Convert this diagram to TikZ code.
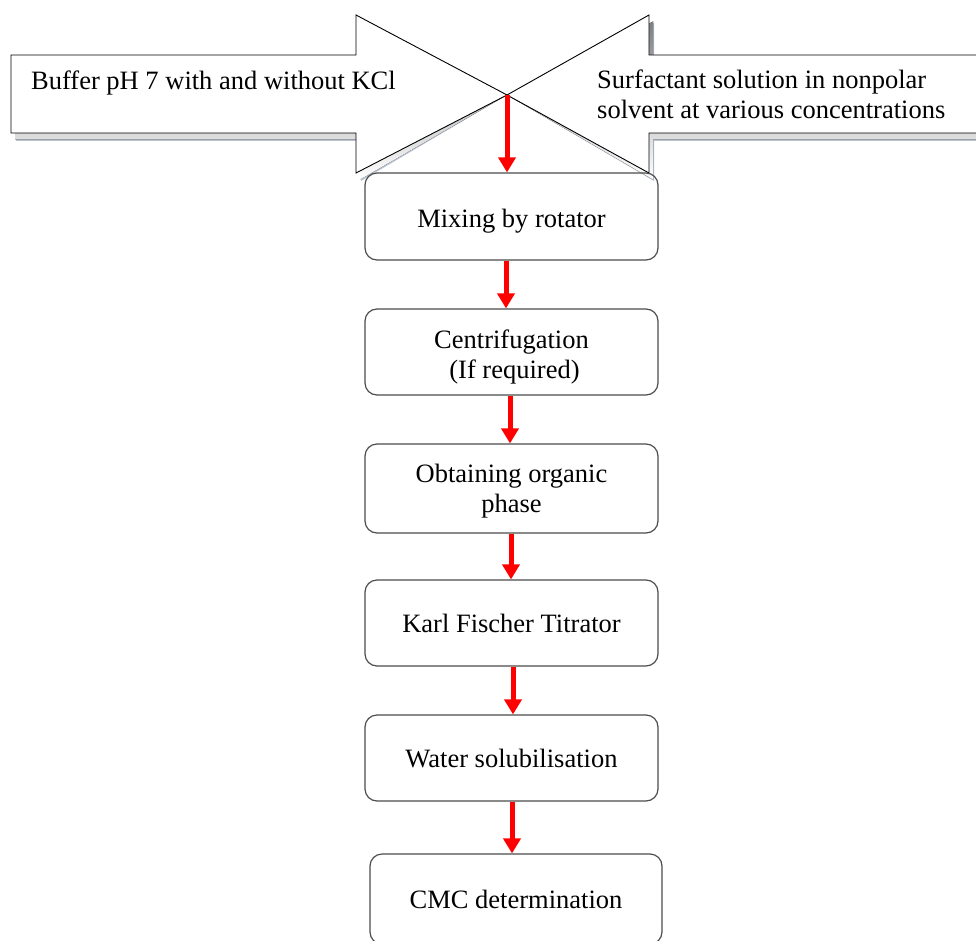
\documentclass[tikz,border=0pt]{standalone}
\usepackage{fontspec}
\setmainfont{Liberation Serif}
\usetikzlibrary{arrows.meta,calc}
\definecolor{shade}{HTML}{8190A8}
\definecolor{shadelight}{HTML}{B9C3D3}
\definecolor{flowred}{HTML}{FF0000}
% invisible strut that sets the height of a first line of text
\newcommand\firstline[1]{\rule{0pt}{#1pt}}
\begin{document}
\begin{tikzpicture}[x=1pt,y=-1pt,
  stagebox/.style={draw=black!70, line width=1.2pt, rounded corners=12pt,
    minimum width=293pt, align=center, inner sep=0pt,
    font=\fontsize{26.5}{30}\selectfont},
  label/.style={inner sep=0pt, font=\fontsize{26.5}{30}\selectfont},
  flow/.style={draw=flowred, line width=5pt,
    -{Triangle[width=17pt,length=15pt]}, shorten <=0pt, shorten >=0pt},
  bigarrow/.style={fill=white, draw=black, line width=0.9pt, line join=miter}]
\useasboundingbox (0,0) rectangle (976,941);
\clip (0,0) rectangle (976,941);

% the two input arrows meeting at a common tip, each with a drop shadow
\coordinate (tip) at (507,95);
\def\leftarrowpath{(11,55) -- (356,55) -- (356,15) -- (tip) -- (356,173)
   -- (356,133) -- (11,133) -- cycle}
\def\rightarrowpath{(990,55) -- (649,55) -- (649,15) -- (tip) -- (649,173)
   -- (649,133) -- (990,133) -- cycle}
\begin{scope}[shift={(5,8)}]
  \fill[shadelight] \leftarrowpath;
  \fill[shadelight] \rightarrowpath;
\end{scope}
\begin{scope}[shift={(4,6.5)}]
  \fill[shade] \leftarrowpath;
  \fill[shade] \rightarrowpath;
\end{scope}
\draw[bigarrow] \leftarrowpath;
\draw[bigarrow] \rightarrowpath;

\node[label, anchor=base west] (buffer) at (31,90)
  {Buffer pH 7 with and without KCl};
\node[label, anchor=base west, align=left] (surf) at (597,118.5)
  {Surfactant solution in nonpolar\\solvent at various concentrations};

% process stages
\node[stagebox, minimum height=87pt] (mix)  at (511.5,216.5)
  {\firstline{26.8}Mixing by rotator};
\node[stagebox, minimum height=86pt] (cent) at (511.5,352)
  {\firstline{27.8}Centrifugation\\\hspace*{6pt}(If required)};
\node[stagebox, minimum height=89pt] (obt)  at (511.5,488.5)
  {\firstline{22.8}Obtaining organic\\phase};
\node[stagebox, minimum height=86pt] (kft)  at (511.5,623)
  {\firstline{20}Karl Fischer Titrator};
\node[stagebox, minimum height=86pt] (wat)  at (511.5,758)
  {\firstline{20}Water solubilisation};
\node[stagebox, minimum height=90pt, minimum width=292pt] (cmc) at (516,899)
  {\firstline{20}CMC determination};

% red flow connectors
\draw[flow] (tip) -- (tip |- mix.north);
\draw[flow] (506,0 |- mix.south) -- (506,0 |- cent.north);
\draw[flow] (510,0 |- cent.south) -- (510,0 |- obt.north);
\draw[flow] (511,0 |- obt.south) -- (511,0 |- kft.north);
\draw[flow] (513,0 |- kft.south) -- (513,0 |- wat.north);
\draw[flow] (512,0 |- wat.south) -- (512,0 |- cmc.north);
\end{tikzpicture}
\end{document}
